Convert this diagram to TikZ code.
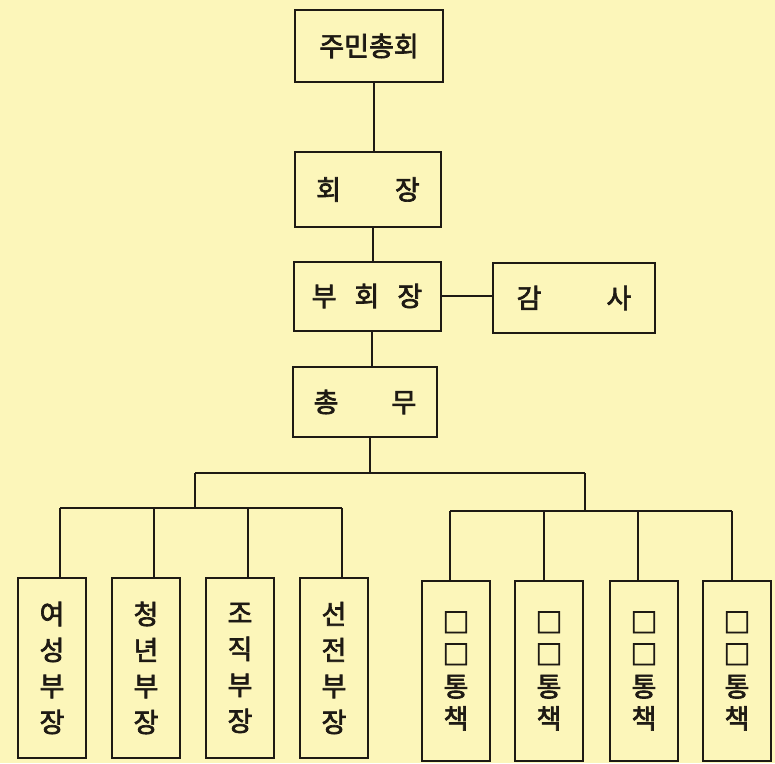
\documentclass[tikz,border=0pt]{standalone}
\usepackage{fontspec}
\newfontfamily\kr{Noto Sans CJK KR}[AutoFakeBold=2.5]
\definecolor{paper}{RGB}{252,246,186}
\definecolor{ink}{RGB}{30,26,20}
\begin{document}
\begin{tikzpicture}[x=1pt,y=-1pt,
  box/.style={draw=ink,line width=2pt,inner sep=0pt,text=ink,
    font=\kr\bfseries\fontsize{27}{30}\selectfont},
  tall/.style={box,minimum width=68pt,minimum height=180pt,align=center},
  dept/.style={tall,font=\kr\bfseries\fontsize{27}{36}\selectfont},
  unit/.style={tall,font=\kr\bfseries\fontsize{27}{32}\selectfont},
  link/.style={draw=ink,line width=2pt}]
\fill[paper] (0,0) rectangle (775,763);
\useasboundingbox (0,0) rectangle (775,763);
\node[box,minimum width=148pt,minimum height=72pt] (top) at (369,46) {주민총회};
\node[box,minimum width=146pt,minimum height=75pt] (hj) at (368,189.5) {회\hspace{54pt}장};
\node[box,minimum width=147pt,minimum height=69pt] (bhj) at (367,296) {부\hspace{18pt}회\hspace{18pt}장};
\node[box,minimum width=162pt,minimum height=70pt] (gs) at (574,298) {감\hspace{65pt}사};
\node[box,minimum width=144pt,minimum height=70pt] (cm) at (365,402) {총\hspace{53pt}무};
% left departments
\node[dept] (d1) at (52,668) {여\\성\\부\\장};
\node[dept] (d2) at (146,668) {청\\년\\부\\장};
\node[dept] (d3) at (240,668) {조\\직\\부\\장};
\node[dept] (d4) at (334,668) {선\\전\\부\\장};
% right units
\node[unit] (u1) at (456,671) {□\\□\\통\\책};
\node[unit] (u2) at (549,671) {□\\□\\통\\책};
\node[unit] (u3) at (644,671) {□\\□\\통\\책};
\node[unit] (u4) at (737,671) {□\\□\\통\\책};
% vertical chain
\draw[link] ([xshift=5pt]top.south) -- ([xshift=5pt]top.south |- hj.north);
\draw[link] ([xshift=5pt]hj.south) -- ([xshift=5pt]hj.south |- bhj.north);
\draw[link] ([xshift=5pt]bhj.south) -- ([xshift=5pt]bhj.south |- cm.north);
\draw[link] (bhj.east) -- (bhj.east -| gs.west);
% branching
\coordinate (j0) at (370,473);
\coordinate (jl) at (195,473);
\coordinate (jr) at (585,473);
\coordinate (bl) at (195,508);
\coordinate (br) at (585,511);
\draw[link] (cm.south -| j0) -- (j0);
\draw[link] (jl) -- (jr);
\draw[link] (jl) -- (bl);
\draw[link] (jr) -- (br);
\draw[link] ([xshift=8pt]d1.north |- bl) -- ([xshift=8pt]d4.north |- bl);
\foreach \d in {d1,d2,d3,d4}
  \draw[link] ([xshift=8pt]\d.north |- bl) -- ([xshift=8pt]\d.north);
\draw[link] ([xshift=-6pt]u1.north |- br) -- ([xshift=-5pt]u4.north |- br);
\draw[link] ([xshift=-6pt]u1.north |- br) -- ([xshift=-6pt]u1.north);
\draw[link] ([xshift=-5pt]u2.north |- br) -- ([xshift=-5pt]u2.north);
\draw[link] ([xshift=-6pt]u3.north |- br) -- ([xshift=-6pt]u3.north);
\draw[link] ([xshift=-5pt]u4.north |- br) -- ([xshift=-5pt]u4.north);
\end{tikzpicture}
\end{document}
